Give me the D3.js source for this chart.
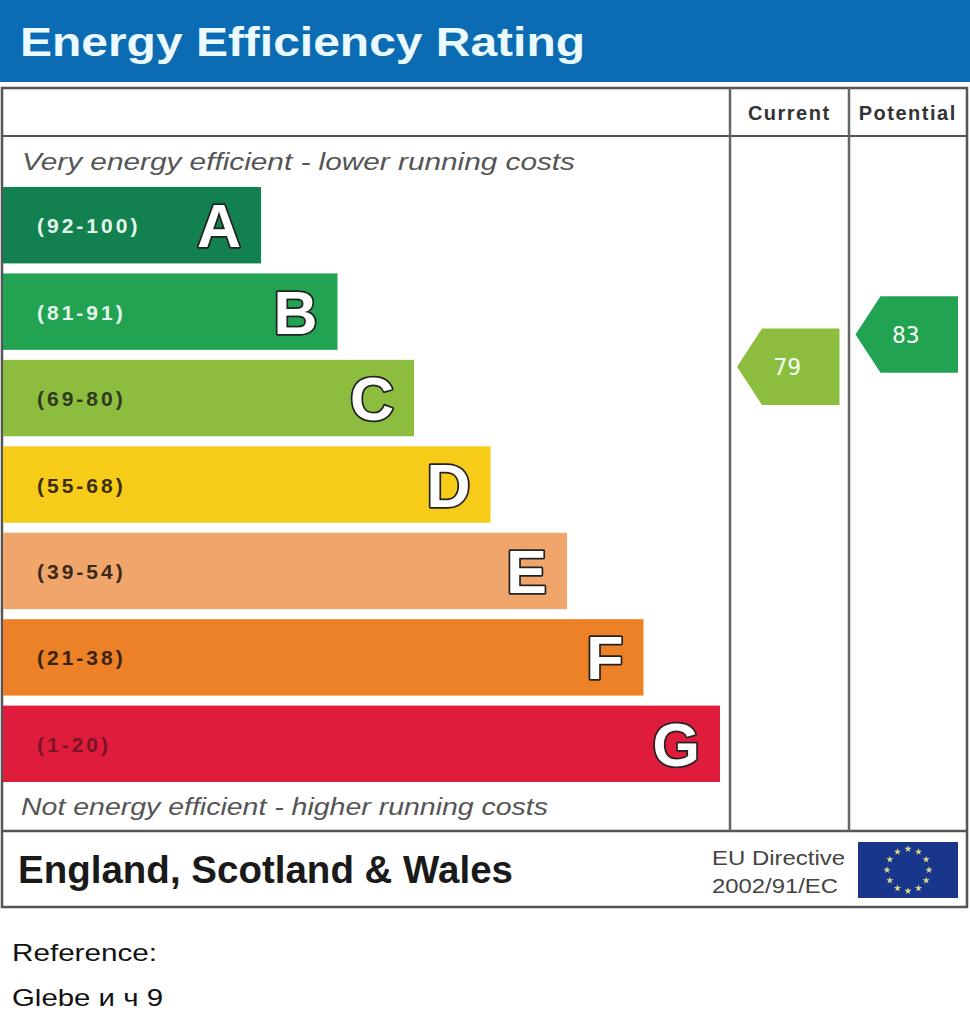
<!DOCTYPE html>
<html>
<head>
<meta charset="utf-8">
<script src="https://cdn.jsdelivr.net/npm/d3@7"></script>
<style>
  body { margin: 0; background: #fff; }
  svg { display: block; }
</style>
</head>
<body>
<div id="chart"></div>
<script>
// rating bands
const letters = ['A', 'B', 'C', 'D', 'E', 'F', 'G']
const ranges = ['(92-100)', '(81-91)', '(69-80)', '(55-68)', '(39-54)', '(21-38)', '(1-20)']
const bandLow = [92, 81, 69, 55, 39, 21, 1]
const bandHigh = [100, 91, 80, 68, 54, 38, 20]
const bandRank = [1, 2, 3, 4, 5, 6, 7]
const bandColors = ['#12804f', '#21a352', '#8dbd3e', '#f6cc19', '#f0a66b', '#ec8128', '#e01c3d']
const rangeColors = ['#e4f7ec', '#e4f7ec', '#2e3a1c', '#3b2c0c', '#3b2a1a', '#3b220c', '#7a1426']

// ratings
const ratingKeys = ['Current', 'Potential']
const ratingValues = [79, 83]

const W = 970, H = 1024
const font = 'Liberation Sans, Arial, sans-serif'
const svg = d3.select('#chart').append('svg')
  .attr('width', W)
  .attr('height', H)

// title bar
svg.append('rect')
  .attr('x', 0).attr('y', 0)
  .attr('width', W).attr('height', 82)
  .attr('fill', '#0b6cb3')
svg.append('text')
  .attr('x', 20).attr('y', 56)
  .attr('font-family', font)
  .attr('font-weight', 'bold')
  .attr('font-size', 41)
  .attr('textLength', 565)
  .attr('lengthAdjust', 'spacingAndGlyphs')
  .attr('fill', '#eafaff')
  .text('Energy Efficiency Rating')

// frame
const frame = { left: 2, right: 967, top: 88, bottom: 907, head: 136, foot: 831 }
const col1 = 730, col2 = 849
const lineColor = '#555'

svg.append('rect')
  .attr('x', frame.left).attr('y', frame.top)
  .attr('width', frame.right - frame.left).attr('height', frame.bottom - frame.top)
  .attr('fill', 'none').attr('stroke', lineColor).attr('stroke-width', 2.5)
svg.append('line')
  .attr('x1', frame.left).attr('x2', frame.right)
  .attr('y1', frame.head).attr('y2', frame.head)
  .attr('stroke', lineColor).attr('stroke-width', 2)
svg.append('line')
  .attr('x1', frame.left).attr('x2', frame.right)
  .attr('y1', frame.foot).attr('y2', frame.foot)
  .attr('stroke', lineColor).attr('stroke-width', 2.5)
;[col1, col2].forEach(x => {
  svg.append('line')
    .attr('x1', x).attr('x2', x)
    .attr('y1', frame.top).attr('y2', frame.foot)
    .attr('stroke', '#666').attr('stroke-width', 2.5)
})

// column headings
const colScale = d3.scaleBand().domain(ratingKeys).range([col1, frame.right])
svg.selectAll('.colhead')
  .data(ratingKeys)
  .enter()
  .append('text')
  .attr('class', 'colhead')
  .attr('x', d => colScale(d) + colScale.bandwidth() / 2)
  .attr('y', 120)
  .attr('text-anchor', 'middle')
  .attr('font-family', font)
  .attr('font-weight', 'bold')
  .attr('font-size', 20)
  .attr('letter-spacing', 1.5)
  .attr('fill', '#333')
  .text(d => d)

const noteStyle = sel => sel
  .attr('font-family', font)
  .attr('font-style', 'italic')
  .attr('font-size', 24)
  .attr('lengthAdjust', 'spacingAndGlyphs')
  .attr('fill', '#555')

svg.append('text')
  .attr('x', 22).attr('y', 170)
  .attr('textLength', 553)
  .call(noteStyle)
  .text('Very energy efficient - lower running costs')
svg.append('text')
  .attr('x', 21).attr('y', 815)
  .attr('textLength', 527)
  .call(noteStyle)
  .text('Not energy efficient - higher running costs')

// bands
const y = d3.scaleBand()
  .domain(letters)
  .range([187, 782])
  .paddingInner(0.116)
const x = d3.scaleLinear()
  .domain([1, 7])
  .range([261, 720])
const x0 = 3

const bands = letters.map((l, i) => ({
  letter: l, range: ranges[i], low: bandLow[i], high: bandHigh[i],
  rank: bandRank[i], color: bandColors[i], rangeColor: rangeColors[i]
}))

const band = svg.selectAll('.band')
  .data(bands)
  .enter()
  .append('g')
  .attr('class', 'band')

band.append('rect')
  .attr('x', x0)
  .attr('y', d => y(d.letter))
  .attr('width', d => x(d.rank) - x0)
  .attr('height', y.bandwidth())
  .attr('fill', d => d.color)

band.append('text')
  .attr('x', 37)
  .attr('y', d => y(d.letter) + y.bandwidth() / 2 + 8)
  .attr('font-family', font)
  .attr('font-weight', 'bold')
  .attr('font-size', 21)
  .attr('letter-spacing', 3)
  .attr('fill', d => d.rangeColor)
  .text(d => d.range)

band.append('text')
  .attr('x', d => x(d.rank) - 20)
  .attr('y', d => y(d.letter) + y.bandwidth() / 2 + 22)
  .attr('text-anchor', 'end')
  .attr('font-family', font)
  .attr('font-weight', 'bold')
  .attr('font-size', 61)
  .attr('fill', '#fff')
  .attr('stroke', '#222')
  .attr('stroke-width', 3.5)
  .attr('stroke-linejoin', 'round')
  .attr('paint-order', 'stroke')
  .text(d => d.letter)

// rating arrows
function bandOf (v) {
  return bands.find(b => v >= b.low && v <= b.high)
}
function arrowY (v) {
  const b = bandOf(v)
  const s = d3.scaleLinear()
    .domain([b.low, b.high])
    .range([y(b.letter) + y.bandwidth(), y(b.letter)])
  return s(v)
}

const ratings = ratingKeys.map((k, i) => ({ key: k, value: ratingValues[i] }))
const arrowH = y.bandwidth()
const tip = 25

const arrow = svg.selectAll('.arrow')
  .data(ratings)
  .enter()
  .append('g')
  .attr('class', 'arrow')

arrow.append('path')
  .attr('d', d => {
    const left = colScale(d.key) + 7
    const right = colScale(d.key) + colScale.bandwidth() - 9
    const cy = arrowY(d.value)
    const top = cy - arrowH / 2, bot = cy + arrowH / 2
    return `M${left},${cy}L${left + tip},${top}L${right},${top}L${right},${bot}L${left + tip},${bot}Z`
  })
  .attr('fill', d => bandOf(d.value).color)

arrow.append('text')
  .attr('x', d => colScale(d.key) + colScale.bandwidth() / 2 - 2)
  .attr('y', d => arrowY(d.value) + 8)
  .attr('text-anchor', 'middle')
  .attr('font-family', 'DejaVu Sans Mono, monospace')
  .attr('font-size', 23)
  .attr('fill', '#f2fff0')
  .text(d => d.value)

// footer
svg.append('text')
  .attr('x', 18).attr('y', 883)
  .attr('font-family', font)
  .attr('font-weight', 'bold')
  .attr('font-size', 39)
  .attr('textLength', 495)
  .attr('lengthAdjust', 'spacingAndGlyphs')
  .attr('fill', '#1a1a1a')
  .text('England, Scotland & Wales')

const euLines = ['EU Directive', '2002/91/EC']
const euWidths = [133, 126]
svg.selectAll('.eu')
  .data(euLines)
  .enter()
  .append('text')
  .attr('class', 'eu')
  .attr('x', 712)
  .attr('y', (d, i) => 865 + i * 28)
  .attr('font-family', font)
  .attr('font-size', 20)
  .attr('textLength', (d, i) => euWidths[i])
  .attr('lengthAdjust', 'spacingAndGlyphs')
  .attr('fill', '#444')
  .text(d => d)

const flag = { x: 858, y: 842, w: 100, h: 56 }
svg.append('rect')
  .attr('x', flag.x).attr('y', flag.y)
  .attr('width', flag.w).attr('height', flag.h)
  .attr('fill', '#17368c')
const starAngles = d3.range(12).map(i => i * 30)
const fcx = flag.x + flag.w / 2, fcy = flag.y + flag.h / 2
svg.selectAll('.star')
  .data(starAngles)
  .enter()
  .append('path')
  .attr('class', 'star')
  .attr('d', d3.symbol().type(d3.symbolStar).size(16))
  .attr('transform', d => {
    const a = d * Math.PI / 180
    return `translate(${fcx + 21 * Math.sin(a)},${fcy - 21 * Math.cos(a)})`
  })
  .attr('fill', '#dcd98a')

// reference lines below chart
const refLines = ['Reference:', 'Glebe и ч 9']
const refWidths = [145, 151]
svg.selectAll('.ref')
  .data(refLines)
  .enter()
  .append('text')
  .attr('class', 'ref')
  .attr('x', 12)
  .attr('y', (d, i) => 961 + i * 45)
  .attr('font-family', font)
  .attr('font-size', 24)
  .attr('textLength', (d, i) => refWidths[i])
  .attr('lengthAdjust', 'spacingAndGlyphs')
  .attr('fill', '#111')
  .text(d => d)
</script>
</body>
</html>
